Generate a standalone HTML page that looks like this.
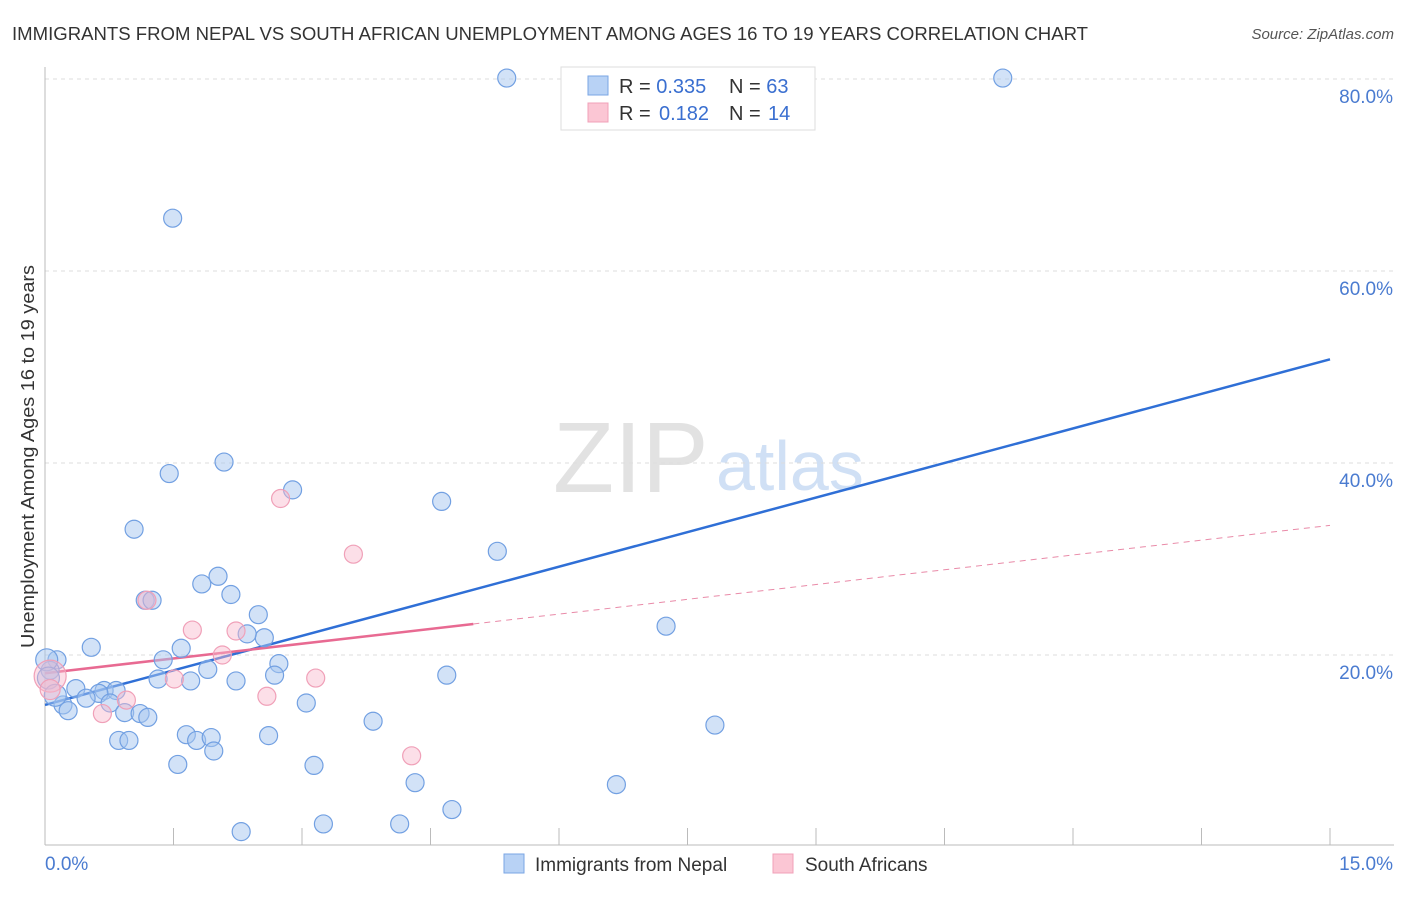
<!DOCTYPE html>
<html><head><meta charset="utf-8">
<style>
body{margin:0;background:#fff;font-family:"Liberation Sans",sans-serif;}
svg text{font-family:"Liberation Sans",sans-serif;}
</style></head>
<body>
<svg id="chart" width="1406" height="892" xmlns="http://www.w3.org/2000/svg">
<text x="12" y="40" font-size="18" fill="#333" textLength="1076" lengthAdjust="spacingAndGlyphs">IMMIGRANTS FROM NEPAL VS SOUTH AFRICAN UNEMPLOYMENT AMONG AGES 16 TO 19 YEARS CORRELATION CHART</text>
<text x="1394" y="39" font-size="15" fill="#555" font-style="italic" text-anchor="end">Source: ZipAtlas.com</text>
<text x="34" y="648" font-size="18" fill="#333" textLength="383" lengthAdjust="spacingAndGlyphs" transform="rotate(-90 34 648)">Unemployment Among Ages 16 to 19 years</text>
<g>
<text x="553" y="492" font-size="100" fill="#e2e2e2" font-family="Liberation Serif">ZIP</text>
<text x="716" y="490" font-size="70" fill="#d0e0f5">atlas</text>
</g>
<g id="grid"></g><g id="axes"></g><g id="lines"></g><g id="points"></g>
<g>
<rect x="561" y="67" width="254" height="63" fill="#fff" stroke="#ddd"/>
<rect x="588" y="76" width="20" height="19" fill="#b8d2f5" stroke="#7aa6e4"/>
<rect x="588" y="103" width="20" height="19" fill="#fbc6d4" stroke="#f0a0b8"/>
<text x="619" y="93" font-size="20" fill="#333">R = <tspan fill="#3a6fd0">0.335</tspan><tspan x="729">N = </tspan><tspan fill="#3a6fd0">63</tspan></text>
<text x="619" y="120" font-size="20" fill="#333">R = <tspan x="659" fill="#3a6fd0">0.182</tspan><tspan x="729">N = </tspan><tspan x="768" fill="#3a6fd0">14</tspan></text>
</g>
<g>
<rect x="504" y="854" width="20" height="19" fill="#b8d2f5" stroke="#7aa6e4"/>
<text x="535" y="871" font-size="19" fill="#333">Immigrants from Nepal</text>
<rect x="773" y="854" width="20" height="19" fill="#fbc6d4" stroke="#f0a0b8"/>
<text x="805" y="871" font-size="19" fill="#333">South Africans</text>
</g>
</svg>
<script>
const xTicks=[0,1.5,3,4.5,6,7.5,9,10.5,12,13.5,15];
const yTicks=[20,40,60,80];
const yTickLabels=["20.0%","40.0%","60.0%","80.0%"];
const nepalX=[5.39,11.18,1.49,1.45,2.09,2.89,4.63,1.04,5.28,2.02,1.83,1.17,1.25,2.17,2.49,7.25,2.56,2.36,1.59,0.54,0.14,1.38,2.73,1.90,1.32,1.70,2.23,2.68,4.69,0.06,0.36,0.69,0.83,0.63,0.48,0.21,0.27,0.76,3.05,0.93,1.11,1.20,3.83,7.82,1.65,2.61,1.77,1.94,0.86,0.98,1.97,1.55,3.14,4.32,6.67,4.75,3.25,4.14,2.29,0.02,0.04,0.12];
const nepalY=[80.1,80.1,65.5,38.9,40.1,37.2,36.0,33.1,30.8,28.2,27.4,25.7,25.7,26.3,24.2,23.0,21.8,22.2,20.7,20.8,19.5,19.5,19.1,18.5,17.5,17.3,17.3,17.9,17.9,18.4,16.5,16.3,16.3,16.0,15.5,14.8,14.2,15.0,15.0,14.0,13.9,13.5,13.1,12.7,11.7,11.6,11.1,11.4,11.1,11.1,10.0,8.6,8.5,6.7,6.5,3.9,2.4,2.4,1.6,19.5,17.6,15.8];
const nepalR=[9,9,9,9,9,9,9,9,9,9,9,9,9,9,9,9,9,9,9,9,9,9,9,9,9,9,9,9,9,9,9,9,9,9,9,9,9,9,9,9,9,9,9,9,9,9,9,9,9,9,9,9,9,9,9,9,9,9,9,11,11,11];
const saX=[0.06,0.06,1.72,2.23,2.07,1.51,0.95,0.67,2.75,3.60,3.16,2.59,4.28,1.19];
const saY=[17.8,16.4,22.6,22.5,20.0,17.5,15.3,13.9,36.3,30.5,17.6,15.7,9.5,25.7];
const saR=[16,10,9,9,9,9,9,9,9,9,9,9,9,9];
const nepalTrend=[14.8,50.8];
const saTrend=[18.1,33.5];
const saSolidEnd=5.0;
const NS="http://www.w3.org/2000/svg";
const X=v=>45+v*(1330-45)/15;
const Y=v=>847-v*9.6;
function mk(tag,attrs,parent){const e=document.createElementNS(NS,tag);for(const k in attrs)e.setAttribute(k,attrs[k]);document.getElementById(parent).appendChild(e);return e;}
yTicks.forEach((t,i)=>{
 const g=mk('line',{x1:45,x2:1394,y1:Y(t),y2:Y(t),stroke:'#ddd','stroke-dasharray':'4,4'},'grid');
 
 
 const tx=mk('text',{x:1393,y:Y(t)+24,'font-size':19,fill:'#4a7bd0','text-anchor':'end'},'axes');
 tx.textContent=yTickLabels[i];
 
 
});
const ax=mk('line',{x1:45,x2:1394,y1:845,y2:845,stroke:'#bbb'},'axes');


const ay=mk('line',{x1:45,x2:45,y1:67,y2:845,stroke:'#bbb'},'axes');


xTicks.forEach(t=>{const l=mk('line',{x1:X(t),x2:X(t),y1:828,y2:845,stroke:'#bbb'},'axes');
 
 });
const x0=mk('text',{x:45,y:870,'font-size':19,fill:'#4a7bd0'},'axes');x0.textContent="0.0%";


const x1=mk('text',{x:1393,y:870,'font-size':19,fill:'#4a7bd0','text-anchor':'end'},'axes');x1.textContent="15.0%";


nepalX.forEach((v,i)=>{const c=mk('circle',{cx:X(v),cy:Y(nepalY[i]),r:nepalR[i],fill:'rgba(165,198,240,0.5)',stroke:'#72a0e2','stroke-width':1.2},'points');
 
 });
saX.forEach((v,i)=>{const c=mk('circle',{cx:X(v),cy:Y(saY[i]),r:saR[i],fill:'rgba(248,185,205,0.45)',stroke:'#f0a0b8','stroke-width':1.2},'points');
 
 });
const saAt=x=>saTrend[0]+(saTrend[1]-saTrend[0])*x/15;
const bl=mk('line',{x1:X(0),y1:Y(nepalTrend[0]),x2:X(15),y2:Y(nepalTrend[1]),stroke:'#2f6fd6','stroke-width':2.5},'lines');


const ps=mk('line',{x1:X(0),y1:Y(saAt(0)),x2:X(saSolidEnd),y2:Y(saAt(saSolidEnd)),stroke:'#e86a92','stroke-width':2.5},'lines');


const pd=mk('line',{x1:X(saSolidEnd),y1:Y(saAt(saSolidEnd)),x2:X(15),y2:Y(saAt(15)),stroke:'#e98aa8','stroke-width':1,'stroke-dasharray':'6,5'},'lines');


</script>
</body></html>
